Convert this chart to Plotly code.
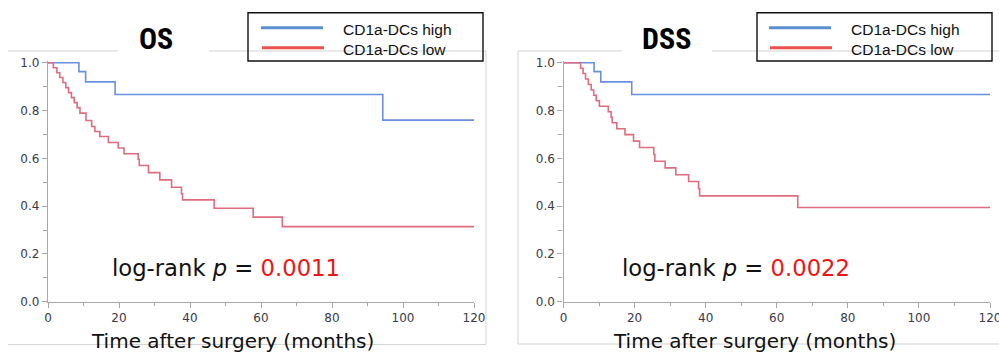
import plotly.graph_objects as go

# ---------------- data ----------------
os_high_t = [0, 8.7, 10.6, 18.9, 94.3, 120]
os_high_s = [1.0, 0.963, 0.92, 0.867, 0.76, 0.76]

os_low_t = [0, 1.5, 2.5, 3.3, 4.2, 5.0, 5.8, 6.6, 7.4, 8.2, 9.0, 10.7, 12.3, 13.2,
            14.6, 17.0, 19.8, 21.4, 25.4, 25.7, 28.3, 31.5, 34.8, 37.6, 37.9,
            46.8, 57.8, 66.0, 120]
os_low_s = [1.0, 0.979, 0.958, 0.938, 0.917, 0.896, 0.875, 0.854, 0.833, 0.812,
            0.789, 0.758, 0.733, 0.712, 0.691, 0.666, 0.643, 0.619, 0.596, 0.570,
            0.540, 0.510, 0.479, 0.452, 0.426, 0.391, 0.354, 0.314, 0.314]

dss_high_t = [0, 8.6, 10.5, 19.2, 120]
dss_high_s = [1.0, 0.963, 0.92, 0.867, 0.867]

dss_low_t = [0, 4.8, 5.5, 6.2, 7.0, 7.8, 8.5, 9.2, 10.1, 12.6, 13.4, 13.7, 15.0,
             17.3, 19.7, 21.4, 25.4, 25.7, 28.6, 31.6, 35.2, 38.0, 38.3, 65.9, 120]
dss_low_s = [1.0, 0.977, 0.955, 0.932, 0.909, 0.886, 0.864, 0.841, 0.818, 0.795,
             0.772, 0.749, 0.724, 0.699, 0.672, 0.645, 0.616, 0.588, 0.560, 0.531,
             0.503, 0.473, 0.443, 0.394, 0.394]

panel_titles = ["OS", "DSS"]
legend_labels = ["CD1a-DCs high", "CD1a-DCs low"]
p_values = ["0.0011", "0.0022"]
x_title = "Time after surgery (months)"

# ---------------- styles ----------------
W, H = 999, 353
BLUE = "#6a8fe0"
RED = "#dd6d7f"
LEG_BLUE = "#5b8fd3"
LEG_RED = "#ee5050"
AXIS = "#a8a8a8"
FRAME = "#d4d4d4"
TICKFONT = dict(family="DejaVu Sans", size=12, color="#3a3a48")
TITLEFONT = "Liberation Sans Narrow, Arial Narrow, Roboto Condensed, Roboto"


def X(px):
    return px / W


def Y(py):
    return 1 - py / H


fig = go.Figure()

fig.add_trace(go.Scatter(x=os_high_t, y=os_high_s, mode="lines", line_shape="hv",
                         line=dict(color=BLUE, width=1.6), xaxis="x", yaxis="y",
                         name=legend_labels[0], showlegend=False))
fig.add_trace(go.Scatter(x=os_low_t, y=os_low_s, mode="lines", line_shape="hv",
                         line=dict(color=RED, width=1.6), xaxis="x", yaxis="y",
                         name=legend_labels[1], showlegend=False))
fig.add_trace(go.Scatter(x=dss_high_t, y=dss_high_s, mode="lines", line_shape="hv",
                         line=dict(color=BLUE, width=1.6), xaxis="x2", yaxis="y2",
                         name=legend_labels[0], showlegend=False))
fig.add_trace(go.Scatter(x=dss_low_t, y=dss_low_s, mode="lines", line_shape="hv",
                         line=dict(color=RED, width=1.6), xaxis="x2", yaxis="y2",
                         name=legend_labels[1], showlegend=False))

ydom = [Y(301.7), Y(61.3)]
xdoms = [[X(48), X(474)], [X(563.5), X(990)]]


def xaxis_cfg(dom, anchor):
    return dict(domain=dom, anchor=anchor, range=[0, 120], tickmode="linear", tick0=0,
                dtick=20, showline=True, linecolor=AXIS, linewidth=1.3,
                ticks="outside", ticklen=5, tickcolor=AXIS, tickwidth=1,
                minor=dict(dtick=10, ticks="outside", ticklen=3, tickcolor=AXIS),
                showgrid=False, zeroline=False, tickfont=TICKFONT, automargin=False,
                ticklabeloverflow="allow")


def yaxis_cfg(anchor):
    return dict(domain=ydom, anchor=anchor, range=[0, 1.006], tickmode="linear", tick0=0,
                dtick=0.2, tickformat=".1f", showline=True, linecolor=AXIS,
                linewidth=1.3, ticks="outside", ticklen=5, tickcolor=AXIS,
                minor=dict(dtick=0.1, ticks="outside", ticklen=4, tickcolor=AXIS),
                showgrid=False, zeroline=False, tickfont=TICKFONT, automargin=False,
                ticklabeloverflow="allow")


shapes = []


def hline(x0, x1, y, color=FRAME, w=1):
    shapes.append(dict(type="line", xref="paper", yref="paper", x0=X(x0), x1=X(x1),
                       y0=Y(y), y1=Y(y), line=dict(color=color, width=w)))


def vline(x, y0, y1, color=FRAME, w=1):
    shapes.append(dict(type="line", xref="paper", yref="paper", x0=X(x), x1=X(x),
                       y0=Y(y0), y1=Y(y1), line=dict(color=color, width=w)))


# left panel frame
hline(8, 118, 51)
hline(209, 486, 51)
vline(486, 51, 344.5)
hline(8, 486, 344.5)
# right panel frame
hline(518, 622, 51)
hline(712, 999, 51)
vline(518, 51, 344)
hline(518, 999, 344)

annotations = []
panels = [
    dict(title_x=156, leg_x0=248, leg_x1=483, line_x0=261, line_x1=323, text_x=341,
         p_x=110, xt_x=232),
    dict(title_x=666, leg_x0=757, leg_x1=992, line_x0=769, line_x1=831, text_x=849,
         p_x=620, xt_x=754),
]
for i, p in enumerate(panels):
    shapes.append(dict(type="rect", xref="paper", yref="paper", x0=X(p["leg_x0"]),
                       x1=X(p["leg_x1"]), y0=Y(61), y1=Y(12.7),
                       line=dict(color="#111111", width=1.4), fillcolor="rgba(0,0,0,0)"))
    hline(p["line_x0"], p["line_x1"], 27.7, LEG_BLUE, 3)
    hline(p["line_x0"] + 1, p["line_x1"] + 1, 47.7, LEG_RED, 3)
    for lab, yy in zip(legend_labels, [29.5, 49.5]):
        annotations.append(dict(xref="paper", yref="paper", x=X(p["text_x"]), y=Y(yy),
                                xanchor="left", yanchor="middle", showarrow=False,
                                text=lab, font=dict(family="Liberation Sans", size=15.5,
                                                    color="#111111")))
    annotations.append(dict(xref="paper", yref="paper", x=X(p["title_x"]), y=Y(38),
                            xanchor="center", yanchor="middle", showarrow=False,
                            text="<b>%s</b>" % panel_titles[i],
                            font=dict(family=TITLEFONT, size=30, color="#000000")))
    annotations.append(dict(xref="paper", yref="paper", x=X(p["p_x"]), y=Y(268),
                            xanchor="left", yanchor="middle", showarrow=False,
                            text="log-rank <i>p</i> = <span style='color:#e81818'>%s</span>" % p_values[i],
                            font=dict(family="DejaVu Sans", size=22.7, color="#111111")))
    annotations.append(dict(xref="paper", yref="paper", x=X(p["xt_x"]), y=Y(341),
                            xanchor="center", yanchor="middle", showarrow=False,
                            text=x_title,
                            font=dict(family="DejaVu Sans", size=20, color="#111111")))

fig.update_layout(
    width=W, height=H, autosize=False,
    margin=dict(l=0, r=0, t=0, b=0, autoexpand=False),
    paper_bgcolor="white", plot_bgcolor="white",
    xaxis=xaxis_cfg(xdoms[0], "y"),
    yaxis=yaxis_cfg("x"),
    xaxis2=xaxis_cfg(xdoms[1], "y2"),
    yaxis2=yaxis_cfg("x2"),
    shapes=shapes,
    annotations=annotations,
    showlegend=False,
)

fig.write_html("out.html", config={"displayModeBar": False},
               post_script="document.body.style.margin='0';document.body.style.overflow='hidden';")
